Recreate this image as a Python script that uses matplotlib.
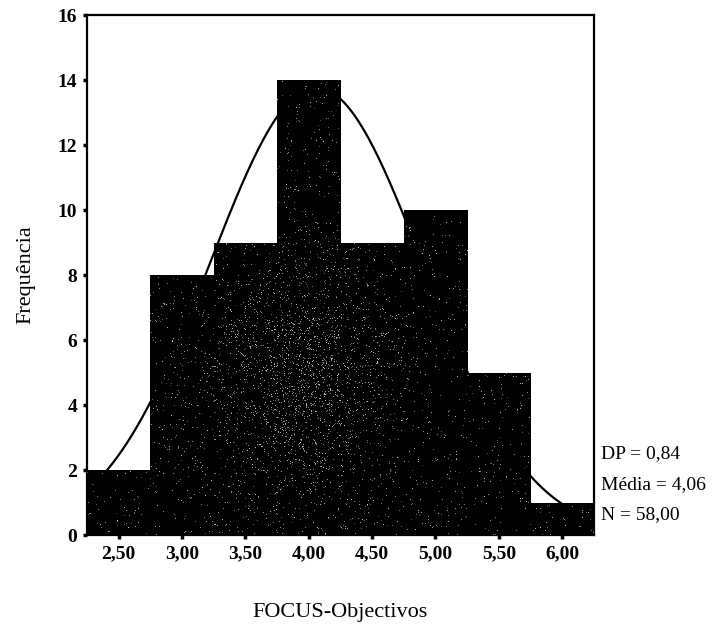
import numpy as np
import matplotlib
matplotlib.use("Agg")
import matplotlib.pyplot as plt

# Histograma FOCUS-Objectivos (frequências por classe de 0,5)
bin_centers = [2.50, 3.00, 3.50, 4.00, 4.50, 5.00, 5.50, 6.00]
frequencies = [2, 8, 9, 14, 9, 10, 5, 1]
tick_labels = ["2,50", "3,00", "3,50", "4,00", "4,50", "5,00", "5,50", "6,00"]
y_ticks = [0, 2, 4, 6, 8, 10, 12, 14, 16]

mean = 4.06
sd = 0.84
n = 58
bin_width = 0.5

plt.rcParams["font.family"] = ["Liberation Serif", "DejaVu Serif"]

fig = plt.figure(figsize=(7.12, 6.28), dpi=100)
ax = fig.add_axes([0.122, 0.148, 0.712, 0.828])

xmin = bin_centers[0] - bin_width / 2
xmax = bin_centers[-1] + bin_width / 2

# curva normal ajustada
xs = np.linspace(xmin, xmax, 300)
ys = n * bin_width / (sd * np.sqrt(2 * np.pi)) * np.exp(-0.5 * ((xs - mean) / sd) ** 2)
ax.plot(xs, ys, color="black", lw=1.6, zorder=1)

bars = ax.bar(bin_centers, frequencies, width=bin_width, color="black",
              edgecolor="none", zorder=2)

# textura granulada do preenchimento (mais clara ao centro)
rng = np.random.default_rng(7)
h, w = 520, 510
gy, gx = np.mgrid[0:h, 0:w]
ux = gx / w
uy = 1 - gy / h
dens = 0.015 + 0.09 * np.exp(-((ux - 0.42) ** 2) / 0.02 - ((uy - 0.3) ** 2) / 0.03)
speck = rng.random((h, w)) < dens
tex = np.where(speck, rng.uniform(0.3, 0.75, (h, w)), 0.0)
for bar in bars:
    im = ax.imshow(tex, cmap="gray", vmin=0, vmax=1, extent=[xmin, xmax, 0, 16],
                   aspect="auto", interpolation="nearest", zorder=3)
    im.set_clip_path(bar)

ax.set_xlim(xmin, xmax)
ax.set_ylim(0, 16)
ax.set_xticks(bin_centers)
ax.set_xticklabels(tick_labels)
ax.set_yticks(y_ticks)
ax.tick_params(direction="out", length=3, width=2.5, labelsize=14, pad=4)
for lab in ax.get_xticklabels() + ax.get_yticklabels():
    lab.set_fontweight("bold")
for sp in ax.spines.values():
    sp.set_linewidth(1.6)

ax.set_xlabel("FOCUS-Objectivos", fontsize=16, labelpad=30)
ax.set_ylabel("Frequência", fontsize=16, labelpad=16)

stats = ["DP = 0,84", "Média = 4,06", "N = 58,00"]
for i, s in enumerate(stats):
    ax.text(1.015, 2.5 / 16 - i * 0.94 / 16, s, transform=ax.transAxes,
            fontsize=14, va="center", ha="left")

fig.savefig("out.png", dpi=100)
